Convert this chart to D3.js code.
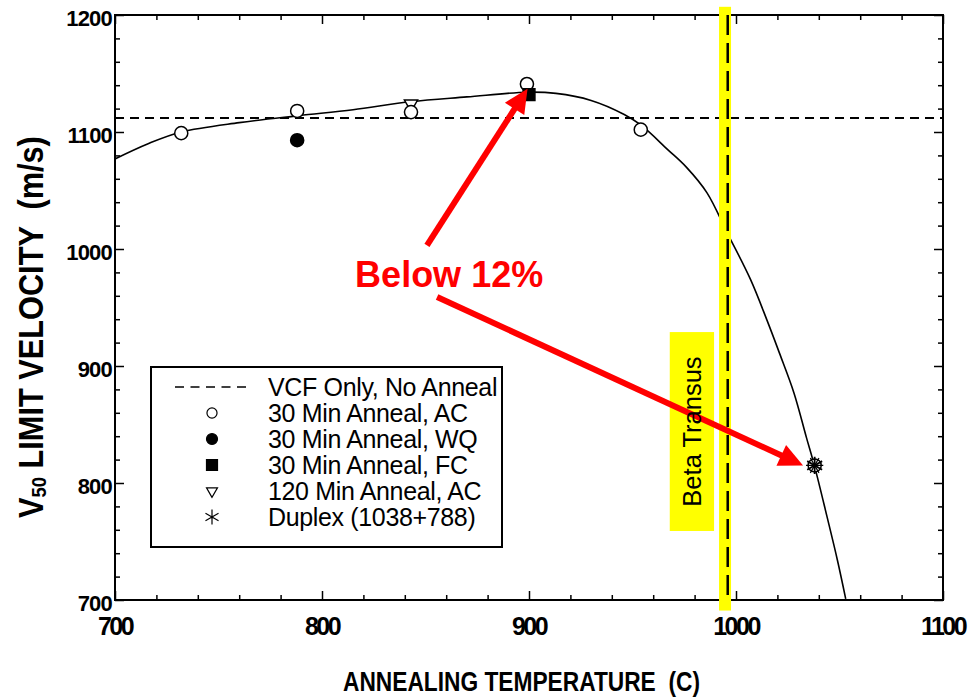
<!DOCTYPE html>
<html>
<head>
<meta charset="utf-8">
<script src="https://cdn.jsdelivr.net/npm/d3@7"></script>
<style>
  body { margin: 0; background: #fff; }
  text { font-family: "Liberation Sans", Arial, sans-serif; }
</style>
</head>
<body>
<div id="chart"></div>
<script>
// Data
var tempTicks = [700, 800, 900, 1000, 1100];
var velTicks = [700, 800, 900, 1000, 1100, 1200];

var vcfOnly = 1112;

var ac30Temp = [732, 788, 843, 899, 954, 1038];
var ac30Vel = [1099, 1118, 1117, 1141, 1102, 815];
var wq30Temp = [788];
var wq30Vel = [1093];
var fc30Temp = [900];
var fc30Vel = [1132];
var ac120Temp = [843];
var ac120Vel = [1124];
var duplexTemp = [1038];
var duplexVel = [815];

// fitted curve
var fitTemp = [700, 716, 732, 760, 789, 815, 843, 870, 899, 913, 930, 946, 954, 967, 976, 986, 996, 1007, 1015, 1021, 1028, 1034, 1038, 1044, 1049, 1053];
var fitVel = [1077, 1090, 1100, 1108, 1114, 1119, 1126, 1130, 1134, 1133, 1127, 1115, 1106, 1085, 1070, 1048, 1013, 974, 939, 911, 877, 839, 814, 771, 734, 701];

var betaTransus = 996;
var betaBand = [991.8, 997.6];
var betaBandVel = [691, 1207];
var betaBoxTemp = [968, 989.4];
var betaBoxVel = [759, 929];

var legendLabels = ["VCF Only, No Anneal", "30 Min Anneal, AC", "30 Min Anneal, WQ",
  "30 Min Anneal, FC", "120 Min Anneal, AC", "Duplex (1038+788)"];

// arrows: [tailTemp, tailVel, tipTemp, tipVel]
var arrowOne = [850.7, 1003, 899.3, 1137];
var arrowTwo = [855.6, 959, 1032.4, 815];

var svgWidth = 968;
var svgHeight = 698;
var margin = { top: 15, right: 25, bottom: 98, left: 115 };
var width = svgWidth - margin.left - margin.right;
var height = svgHeight - margin.top - margin.bottom;

var svg = d3.select("#chart").append("svg")
    .attr("width", svgWidth)
    .attr("height", svgHeight);

var chartGroup = svg.append("g")
    .attr("transform", `translate(${margin.left}, ${margin.top})`);

var x = d3.scaleLinear().domain([700, 1100]).range([0, width]);
var y = d3.scaleLinear().domain([700, 1200]).range([height, 0]);

chartGroup.append("clipPath").attr("id", "plotclip")
  .append("rect").attr("width", width).attr("height", height);

// frame + inward ticks on all four sides
var minorT = d3.range(700, 1101, 20).filter(d => d % 100 != 0);
var minorV = d3.range(700, 1201, 20).filter(d => d % 100 != 0);

function ticks(axis, tx, ty, values, size) {
  chartGroup.append("g")
    .attr("transform", `translate(${tx}, ${ty})`)
    .call(axis.tickValues(values).tickSize(-size).tickFormat(""))
    .call(g => g.select(".domain").remove())
    .call(g => g.selectAll("line").attr("stroke-width", 1.5));
}
ticks(d3.axisBottom(x), 0, height, minorT, 5);
ticks(d3.axisBottom(x), 0, height, tempTicks, 9);
ticks(d3.axisTop(x), 0, 0, minorT, 5);
ticks(d3.axisTop(x), 0, 0, tempTicks, 9);
ticks(d3.axisLeft(y), 0, 0, minorV, 5);
ticks(d3.axisLeft(y), 0, 0, velTicks, 9);
ticks(d3.axisRight(y), width, 0, minorV, 5);
ticks(d3.axisRight(y), width, 0, velTicks, 9);

chartGroup.append("rect")
    .attr("width", width).attr("height", height)
    .attr("fill", "none").attr("stroke", "#000").attr("stroke-width", 2);

// tick labels
chartGroup.selectAll(".xlab").data(tempTicks).enter().append("text")
    .attr("x", d => x(d)).attr("y", height + 35)
    .attr("text-anchor", "middle")
    .style("font-size", "25px").style("font-weight", "bold").style("letter-spacing", "-2.5px")
    .text(d => d);

chartGroup.selectAll(".ylab").data(velTicks).enter().append("text")
    .attr("x", -3).attr("y", d => y(d) + 11)
    .attr("text-anchor", "end")
    .style("font-size", "22px").style("font-weight", "bold").style("letter-spacing", "-0.8px")
    .text(d => d);

// axis titles, squeezed to the original width
var xTitle = svg.append("text")
    .style("font-size", "28px").style("font-weight", "bold").style("white-space", "pre")
    .text("ANNEALING TEMPERATURE  (C)");
var xw = xTitle.node().getComputedTextLength();
xTitle.attr("transform", `translate(343, 691) scale(${357 / xw}, 1)`);

var yTitle = svg.append("text")
    .style("font-size", "35px").style("font-weight", "bold").style("white-space", "pre");
yTitle.append("tspan").text("V");
yTitle.append("tspan").attr("dy", 3).style("font-size", "21px").text("50");
yTitle.append("tspan").attr("dy", -3).text(" LIMIT VELOCITY  (m/s)");
var yw = yTitle.node().getComputedTextLength();
yTitle.attr("transform", `translate(43, 518) rotate(-90) scale(${382 / yw}, 1)`);

// fitted curve
var fitData = fitTemp.map((t, i) => ({ t: t, v: fitVel[i] }));
chartGroup.append("path")
    .datum(fitData)
    .attr("clip-path", "url(#plotclip)")
    .attr("fill", "none").attr("stroke", "#000").attr("stroke-width", 1.6)
    .attr("d", d3.line().x(d => x(d.t)).y(d => y(d.v)).curve(d3.curveCatmullRom.alpha(0.5)));

// VCF only reference
chartGroup.append("line")
    .attr("x1", 0).attr("x2", width)
    .attr("y1", y(vcfOnly)).attr("y2", y(vcfOnly))
    .attr("stroke", "#000").attr("stroke-width", 2).attr("stroke-dasharray", "9,6");

// markers
function markers(temps, vels, type, size, fill, rot, sw) {
  chartGroup.append("g").selectAll("path")
    .data(temps.map((t, i) => [t, vels[i]]))
    .enter().append("path")
    .attr("transform", d => `translate(${x(d[0])}, ${y(d[1])}) rotate(${rot || 0})`)
    .attr("d", d3.symbol().type(type).size(size))
    .attr("fill", fill).attr("stroke", "#000").attr("stroke-width", sw || 1.5);
}
markers(ac120Temp, ac120Vel, d3.symbolTriangle, 75, "#fff", 180);
markers(ac30Temp, ac30Vel, d3.symbolCircle, 135, "#fff");
markers(wq30Temp, wq30Vel, d3.symbolCircle, 135, "#000");
markers(fc30Temp, fc30Vel, d3.symbolSquare, 140, "#000");
markers(duplexTemp, duplexVel, d3.symbolAsterisk, 210, "none", 0, 1.8);
markers(duplexTemp, duplexVel, d3.symbolAsterisk, 210, "none", 90, 1.2);

// legend
var lx = 151 - margin.left, ly = 367 - margin.top;
var legend = chartGroup.append("g").attr("transform", `translate(${lx}, ${ly})`);
legend.append("rect")
    .attr("width", 351).attr("height", 180)
    .attr("fill", "#fff").attr("stroke", "#000").attr("stroke-width", 2);
var rowY = i => 20 + i * 26;
legend.append("line")
    .attr("x1", 24).attr("x2", 96).attr("y1", rowY(0)).attr("y2", rowY(0))
    .attr("stroke", "#000").attr("stroke-width", 1.5).attr("stroke-dasharray", "9,6.5");
var legSyms = [
  [d3.symbolCircle, 80, "#fff", 0],
  [d3.symbolCircle, 95, "#000", 0],
  [d3.symbolSquare, 121, "#000", 0],
  [d3.symbolTriangle, 52, "#fff", 180],
  [d3.symbolAsterisk, 160, "none", 0]
];
legSyms.forEach(function(s, i) {
  legend.append("path")
    .attr("transform", `translate(61, ${rowY(i + 1)}) rotate(${s[3]})`)
    .attr("d", d3.symbol().type(s[0]).size(s[1]))
    .attr("fill", s[2]).attr("stroke", "#000").attr("stroke-width", 1.2);
});
legend.selectAll("text").data(legendLabels).enter().append("text")
    .attr("x", 117).attr("y", (d, i) => rowY(i) + 9)
    .style("font-size", "25px").style("letter-spacing", "-0.35px")
    .text(d => d);

// beta transus band + label
chartGroup.append("rect")
    .attr("x", x(betaBand[0])).attr("width", x(betaBand[1]) - x(betaBand[0]))
    .attr("y", y(betaBandVel[1])).attr("height", y(betaBandVel[0]) - y(betaBandVel[1]))
    .attr("fill", "#ffff00");
chartGroup.append("rect")
    .attr("x", x(betaBoxTemp[0])).attr("width", x(betaBoxTemp[1]) - x(betaBoxTemp[0]))
    .attr("y", y(betaBoxVel[1])).attr("height", y(betaBoxVel[0]) - y(betaBoxVel[1]))
    .attr("fill", "#ffff00");

// red arrows
function arrow(a) {
  var x0 = x(a[0]), y0 = y(a[1]), x1 = x(a[2]), y1 = y(a[3]);
  var dx = x1 - x0, dy = y1 - y0, len = Math.sqrt(dx * dx + dy * dy);
  var ux = dx / len, uy = dy / len, hl = 24, hw = 11.5;
  var bx = x1 - ux * hl, by = y1 - uy * hl;
  chartGroup.append("line")
    .attr("x1", x0).attr("y1", y0).attr("x2", bx + ux * 2).attr("y2", by + uy * 2)
    .attr("stroke", "#ff0000").attr("stroke-width", 6);
  chartGroup.append("path")
    .attr("d", `M${x1},${y1}L${bx - uy * hw},${by + ux * hw}L${bx + uy * hw},${by - ux * hw}Z`)
    .attr("fill", "#ff0000");
}
arrow(arrowOne);
arrow(arrowTwo);

chartGroup.append("line")
    .attr("x1", x(betaTransus)).attr("x2", x(betaTransus))
    .attr("y1", 0).attr("y2", height)
    .attr("stroke", "#000").attr("stroke-width", 2.5).attr("stroke-dasharray", "20,8");

chartGroup.append("text")
    .attr("transform", `translate(${x((betaBoxTemp[0] + betaBoxTemp[1]) / 2) + 9}, ${y((betaBoxVel[0] + betaBoxVel[1]) / 2)}) rotate(-90)`)
    .attr("text-anchor", "middle")
    .style("font-size", "25.5px")
    .text("Beta Transus");

chartGroup.append("text")
    .attr("x", x(816)).attr("y", y(967.5))
    .attr("fill", "#ff0000")
    .style("font-size", "36px").style("font-weight", "bold")
    .text("Below 12%");
</script>
</body>
</html>
